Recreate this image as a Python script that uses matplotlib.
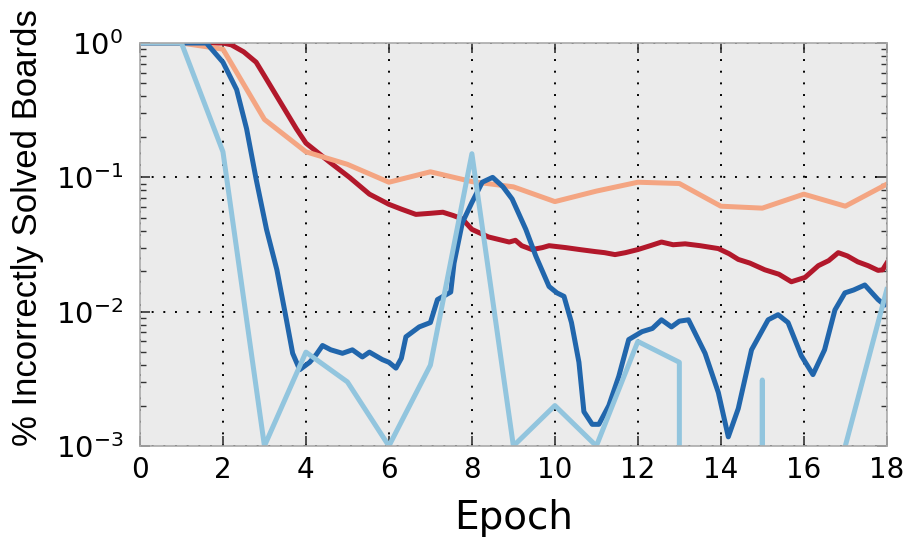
import numpy as np
import matplotlib
matplotlib.use("Agg")
import matplotlib.pyplot as plt
from matplotlib.ticker import LogLocator, NullFormatter

# ---------------------------------------------------------------
# Dados (fração de tabuleiros resolvidos errado)
# ---------------------------------------------------------------

# curvas por época (valores só nos inteiros)
epocas = list(range(19))
laranja = [1.0, 1.0, 0.9, 0.27, 0.155, 0.125, 0.092, 0.11, 0.093, 0.085,
           0.066, 0.079, 0.092, 0.090, 0.061, 0.059, 0.075, 0.061, 0.089]
azul_claro = [1.0, 1.0, 0.155, 0.001, 0.005, 0.003, 0.001, 0.004, 0.15, 0.001,
              0.002, 0.001, 0.006, 0.0042, 0.0, 0.0031, 0.0, 0.001, 0.0146]

# curvas contínuas (amostradas ao longo das épocas)
x_vermelho = [0, 2.0, 2.2, 2.5, 2.8, 3.0, 3.3, 3.77, 4.0, 4.57, 5.05, 5.53,
              6.0, 6.3, 6.65, 7.0, 7.3, 7.55, 7.77, 8.0, 8.4, 8.9, 9.05,
              9.2, 9.45, 9.7, 9.86, 10.26, 10.6, 10.98, 11.2, 11.45, 11.7,
              12.0, 12.3, 12.57, 12.85, 13.14, 13.5, 13.94, 14.2, 14.42,
              14.7, 15.06, 15.4, 15.7, 16.03, 16.35, 16.6, 16.83, 17.05,
              17.3, 17.55, 17.79, 17.9, 18.0]
vermelho = [1.0, 1.0, 0.97, 0.86, 0.72, 0.57, 0.40, 0.23, 0.18, 0.13, 0.10,
            0.075, 0.063, 0.058, 0.053, 0.054, 0.055, 0.052, 0.049, 0.041,
            0.036, 0.033, 0.034, 0.031, 0.029, 0.030, 0.031, 0.030, 0.029,
            0.028, 0.0275, 0.0266, 0.0275, 0.029, 0.031, 0.033, 0.0315,
            0.032, 0.031, 0.0295, 0.027, 0.0245, 0.023, 0.0205, 0.019,
            0.0167, 0.018, 0.022, 0.024, 0.0275, 0.026, 0.0235, 0.022,
            0.0203, 0.0205, 0.023]

x_azul = [0, 1.6, 2.0, 2.33, 2.57, 2.8, 3.05, 3.3, 3.53, 3.68, 3.85, 4.09,
          4.25, 4.4, 4.6, 4.88, 5.12, 5.36, 5.53, 5.84, 6.0, 6.17, 6.3, 6.41,
          6.73, 7.0, 7.17, 7.49, 7.57, 7.77, 8.0, 8.25, 8.5, 8.75, 8.97, 9.3,
          9.54, 9.86, 10.05, 10.22, 10.4, 10.58, 10.7, 10.9, 11.06, 11.3,
          11.54, 11.78, 12.1, 12.35, 12.57, 12.81, 13.0, 13.22, 13.62, 13.94,
          14.18, 14.42, 14.74, 15.14, 15.38, 15.62, 15.94, 16.22, 16.5,
          16.75, 16.99, 17.2, 17.47, 17.79, 17.95, 18.0]
azul = [1.0, 1.0, 0.72, 0.45, 0.23, 0.097, 0.041, 0.0205, 0.0087, 0.0049,
        0.0037, 0.0042, 0.0048, 0.0056, 0.0052, 0.0049, 0.0052, 0.0046,
        0.005, 0.0044, 0.0042, 0.0038, 0.0045, 0.0065, 0.0077, 0.0083,
        0.0123, 0.014, 0.023, 0.046, 0.065, 0.092, 0.1, 0.085, 0.069,
        0.041, 0.026, 0.0154, 0.0138, 0.013, 0.0083, 0.0042, 0.0018,
        0.00145, 0.00145, 0.0020, 0.0033, 0.0062, 0.0071, 0.0075, 0.0087,
        0.0077, 0.0085, 0.0087, 0.0049, 0.0025, 0.00117, 0.0019, 0.0052,
        0.0087, 0.0095, 0.0083, 0.0047, 0.0034, 0.0052, 0.0103, 0.0138,
        0.0145, 0.0158, 0.0123, 0.0112, 0.0118]

COR_VERMELHO = "#b2182b"
COR_LARANJA = "#f4a582"
COR_AZUL = "#2166ac"
COR_AZUL_CLARO = "#92c5de"


def main():
    fig = plt.figure(figsize=(9.13, 5.38), dpi=100)
    ax = fig.add_axes([0.1533, 0.171, 0.818, 0.749])
    ax.set_facecolor("#ebebeb")

    lw = 3.6
    ax.plot(x_vermelho, vermelho, color=COR_VERMELHO, lw=lw)
    ax.plot(epocas, laranja, color=COR_LARANJA, lw=lw)
    ax.plot(x_azul, azul, color=COR_AZUL, lw=lw)
    ax.plot(epocas, azul_claro, color=COR_AZUL_CLARO, lw=lw)

    ax.set_yscale("log", nonpositive="clip")
    ax.set_xlim(0, 18)
    ax.set_ylim(1e-3, 1)
    ax.set_xticks(range(0, 19, 2))
    ax.yaxis.set_major_locator(LogLocator(base=10, numticks=10))
    ax.yaxis.set_minor_locator(LogLocator(base=10, subs=np.arange(2, 10), numticks=10))
    ax.yaxis.set_minor_formatter(NullFormatter())

    ax.grid(True, which="major", color="black", linestyle=(0, (1, 5)), lw=1.4)
    ax.tick_params(which="both", direction="in", top=True, right=True,
                   color="#333333", labelsize=20)
    ax.tick_params(which="major", length=7, width=1.2)
    ax.tick_params(axis="x", which="major", pad=7)
    ax.tick_params(axis="y", which="major", pad=12, labelsize=21)
    ax.tick_params(which="minor", length=4, width=1.0)
    for sp in ax.spines.values():
        sp.set_color("#aaaaaa")
        sp.set_linewidth(1.2)

    ax.set_xlabel("Epoch", fontsize=28, labelpad=11)
    fig.text(28 / 913, 1 - 228 / 538, "% Incorrectly Solved Boards",
             rotation=90, ha="center", va="center", fontsize=25,
             family="Liberation Sans")

    fig.savefig("out.png", dpi=100)
    plt.close(fig)


if __name__ == "__main__":
    main()
